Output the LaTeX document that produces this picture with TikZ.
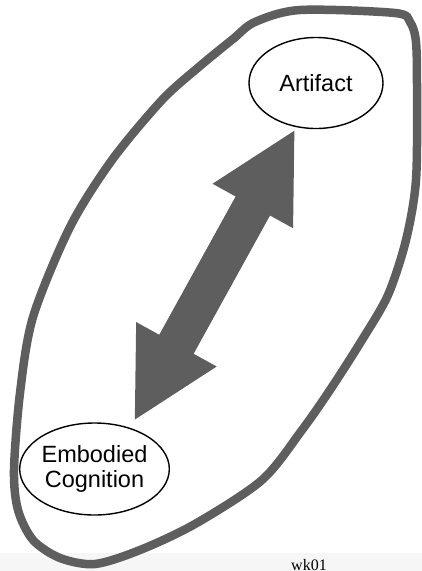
\documentclass[tikz,border=0pt]{standalone}
\usepackage{fontspec}
\setmainfont{Liberation Sans}
\newfontfamily\tagfont{Liberation Serif}
\usepackage{xcolor}
\definecolor{loopgray}{RGB}{94,94,94}
\definecolor{stripgray}{RGB}{246,246,246}
\usetikzlibrary{arrows.meta, shapes.geometric}

\begin{document}
\begin{tikzpicture}[x=1pt, y=-1pt,
    bubble/.style={ellipse, draw=black, line width=1.4pt, fill=white, inner sep=0pt,
      font=\fontsize{23.5}{25}\selectfont, align=center},
    shaft/.style={loopgray, line width=39pt},
    twoway/.style={shaft,
      {Triangle[length=86pt,width=92pt,line width=0pt]}-{Triangle[length=86pt,width=92pt,line width=0pt]}}]
  \useasboundingbox (0,0) rectangle (422,571);

  % Footer strip
  \fill[stripgray] (0,553) rectangle (422,571);
  \node[font=\tagfont\fontsize{16}{16}\selectfont, anchor=base, inner sep=0pt] (tag) at (309,570) {wk01};

  % Outer loop
  \draw[loopgray, line width=8.5pt] plot[smooth cycle] coordinates {
    (162,100) (200,66) (233,39) (255,22) (300,10) (395,13) (410,22) (416,42)
    (417,90) (416,180) (406,240) (388,295) (362,340) (330,390) (302,430)
    (262,480) (195,524) (140,550) (95,564) (60,558) (33,540) (18,510)
    (14,470) (20,393) (33,317) (70,227) (112,160)};

  % Nodes
  \node[bubble, minimum width=134pt, minimum height=91pt] (art) at (316,83) {Artifact};
  \node[bubble, minimum width=137pt, minimum height=92pt] (emb) at (94.5,469) {Embodied\\Cognition};

  % Arrow (shaft drawn long under the heads, so no seam shows)
  \draw[shaft, shorten <=60pt, shorten >=55pt] (emb.49) -- (art.-114);
  \draw[twoway, shorten <=9.5pt, shorten >=4pt] (emb.49) -- (art.-114);
\end{tikzpicture}
\end{document}
